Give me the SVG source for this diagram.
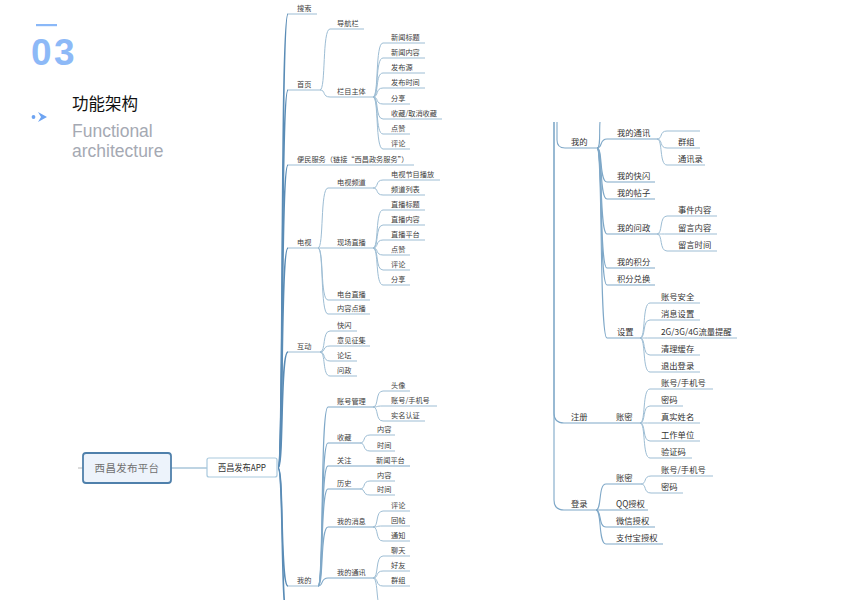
<svg xmlns="http://www.w3.org/2000/svg" width="855" height="600" viewBox="0 0 855 600">
<style>
.t{font-family:"Noto Sans CJK SC","Liberation Sans",sans-serif;font-size:7.2px;fill:#404040}
.r{font-family:"Noto Sans CJK SC","Liberation Sans",sans-serif;font-size:8.3px;fill:#333}
.k1{fill:none;stroke:#5a8cb6;stroke-width:1.5}
.k2{fill:none;stroke:#9dbdd4;stroke-width:1}
.k3{fill:none;stroke:#7fa8c8;stroke-width:1.1}
</style>
<rect width="855" height="600" fill="#fff"/>
<g id="header">
<rect x="36" y="24" width="21" height="2.2" fill="#8ab8f8"/>
<text x="31" y="65" font-family="Liberation Sans,Arial,sans-serif" font-size="37" font-weight="bold" letter-spacing="2.5" fill="#8db9f7">03</text>
<circle cx="33.5" cy="117" r="1.9" fill="#6ea4f2"/>
<polygon points="38,112 47,117 38,122 41,117" fill="#6ea4f2"/>
<text x="72" y="110" font-family="Noto Sans CJK SC,sans-serif" font-size="16.5" fill="#111">功能架构</text>
<text x="72" y="137" font-family="Liberation Sans,Arial,sans-serif" font-size="17.5" fill="#a5a9b3">Functional</text>
<text x="72" y="157" font-family="Liberation Sans,Arial,sans-serif" font-size="17.5" fill="#a5a9b3">architecture</text>
</g>
<g id="connectors">
<line x1="78" y1="468" x2="83" y2="468" stroke="#b8b8b8" stroke-width="1"/>
<line x1="171" y1="468" x2="207" y2="468" stroke="#a9c6da" stroke-width="1.5"/>
<path class="k1" d="M278,468 C284,468 280,14 288,14"/><path class="k2" d="M288,14 H317"/>
<path class="k1" d="M278,468 C284,468 280,90 288,90"/><path class="k2" d="M288,90 H320"/>
<path class="k1" d="M278,468 C284,468 280,165 288,165"/><path class="k2" d="M288,165 H414"/>
<path class="k1" d="M278,468 C284,468 280,248 288,248"/><path class="k2" d="M288,248 H318"/>
<path class="k1" d="M278,468 C284,468 280,352 288,352"/><path class="k2" d="M288,352 H320"/>
<path class="k1" d="M278,468 C284,468 280,586 288,586"/><path class="k2" d="M288,586 H318"/>
<path class="k1" d="M278,468 C284,468 280,620 288,620"/>
<path class="k2" d="M320,90 C326,90 322,29 330,29 H364"/>
<path class="k2" d="M320,90 C326,90 322,97 330,97 H373"/>
<path class="k2" d="M373,97 C379,97 375,43 383,43 H425"/>
<path class="k2" d="M373,97 C379,97 375,58 383,58 H425"/>
<path class="k2" d="M373,97 C379,97 375,73 383,73 H425"/>
<path class="k2" d="M373,97 C379,97 375,88 383,88 H425"/>
<path class="k2" d="M373,97 C379,97 375,104 383,104 H410"/>
<path class="k2" d="M373,97 C379,97 375,119 383,119 H442"/>
<path class="k2" d="M373,97 C379,97 375,134 383,134 H410"/>
<path class="k2" d="M373,97 C379,97 375,149 383,149 H410"/>
<path class="k2" d="M318,248 C324,248 320,188 328,188 H373"/>
<path class="k2" d="M318,248 H373"/>
<path class="k2" d="M318,248 C324,248 320,300 328,300 H370"/>
<path class="k2" d="M318,248 C324,248 320,314 328,314 H370"/>
<path class="k2" d="M373,188 C379,188 375,180 383,180 H440"/>
<path class="k2" d="M373,188 C379,188 375,195 383,195 H425"/>
<path class="k2" d="M373,248 C379,248 375,210 383,210 H425"/>
<path class="k2" d="M373,248 C379,248 375,225 383,225 H425"/>
<path class="k2" d="M373,248 C379,248 375,240 383,240 H425"/>
<path class="k2" d="M373,248 C379,248 375,255 383,255 H410"/>
<path class="k2" d="M373,248 C379,248 375,270 383,270 H410"/>
<path class="k2" d="M373,248 C379,248 375,285 383,285 H410"/>
<path class="k2" d="M320,352 C326,352 322,331 330,331 H357"/>
<path class="k2" d="M320,352 C326,352 322,346 330,346 H370"/>
<path class="k2" d="M320,352 C326,352 322,361 330,361 H357"/>
<path class="k2" d="M320,352 C326,352 322,376 330,376 H357"/>
<path class="k3" d="M318,586 C324,586 320,407 328,407 H373"/>
<path class="k3" d="M318,586 C324,586 320,443 328,443 H360"/>
<path class="k3" d="M318,586 C324,586 320,466 328,466 H410"/>
<path class="k3" d="M318,586 C324,586 320,489 328,489 H360"/>
<path class="k3" d="M318,586 C324,586 320,527 328,527 H373"/>
<path class="k3" d="M318,586 C324,586 320,578 328,578 H373"/>
<path class="k2" d="M373,407 C379,407 375,391 383,391 H410"/>
<path class="k2" d="M373,407 C379,407 375,406 383,406 H437"/>
<path class="k2" d="M373,407 C379,407 375,421 383,421 H425"/>
<path class="k2" d="M360,443 C366,443 362,435 370,435 H395"/>
<path class="k2" d="M360,443 C366,443 362,451 370,451 H395"/>
<path class="k2" d="M360,489 C366,489 362,481 370,481 H395"/>
<path class="k2" d="M360,489 C366,489 362,495 370,495 H395"/>
<path class="k2" d="M373,527 C379,527 375,511 383,511 H410"/>
<path class="k2" d="M373,527 C379,527 375,526 383,526 H410"/>
<path class="k2" d="M373,527 C379,527 375,541 383,541 H410"/>
<path class="k2" d="M373,578 C379,578 375,556 383,556 H410"/>
<path class="k2" d="M373,578 C379,578 375,571 383,571 H410"/>
<path class="k2" d="M373,578 C379,578 375,586 383,586 H410"/>
<path class="k2" d="M373,578 C379,578 375,610 383,610"/>
<path class="k3" d="M557,122 V140 Q557,148 565,148 H597"/>
<path class="k3" d="M554,122 V413 Q554,423 564,423 H640"/>
<path class="k3" d="M554,122 V500 Q554,510 564,510 H596"/>
<path class="k3" d="M597,148 C601,148 599,132 600,122"/>
<path class="k3" d="M597,148 C603,148 599,139 607,139 H657"/>
<path class="k3" d="M597,148 C603,148 599,182 607,182 H655"/>
<path class="k3" d="M597,148 C603,148 599,199 607,199 H655"/>
<path class="k3" d="M597,148 C603,148 599,234 607,234 H657"/>
<path class="k3" d="M597,148 C603,148 599,268 607,268 H655"/>
<path class="k3" d="M597,148 C603,148 599,285 607,285 H655"/>
<path class="k3" d="M597,148 C603,148 599,338 607,338 H640"/>
<path class="k2" d="M657,139 C663,139 659,131 667,131 H700"/>
<path class="k2" d="M657,139 C663,139 659,148 667,148 H700"/>
<path class="k2" d="M657,139 C663,139 659,165 667,165 H705"/>
<path class="k2" d="M657,234 C663,234 659,216 667,216 H717"/>
<path class="k2" d="M657,234 C663,234 659,234 667,234 H717"/>
<path class="k2" d="M657,234 C663,234 659,251 667,251 H717"/>
<path class="k2" d="M640,338 C646,338 642,303 650,303 H700"/>
<path class="k2" d="M640,338 C646,338 642,320 650,320 H700"/>
<path class="k2" d="M640,338 C646,338 642,338 650,338 H737"/>
<path class="k2" d="M640,338 C646,338 642,355 650,355 H700"/>
<path class="k2" d="M640,338 C646,338 642,372 650,372 H700"/>
<path class="k2" d="M640,423 C646,423 642,389 650,389 H713"/>
<path class="k2" d="M640,423 C646,423 642,406 650,406 H683"/>
<path class="k2" d="M640,423 C646,423 642,423 650,423 H700"/>
<path class="k2" d="M640,423 C646,423 642,441 650,441 H700"/>
<path class="k2" d="M640,423 C646,423 642,458 650,458 H692"/>
<path class="k3" d="M596,510 C602,510 598,484 606,484 H641"/>
<path class="k3" d="M596,510 H648"/>
<path class="k3" d="M596,510 C602,510 598,527 606,527 H655"/>
<path class="k3" d="M596,510 C602,510 598,544 606,544 H663"/>
<path class="k2" d="M641,484 C647,484 643,476 651,476 H713"/>
<path class="k2" d="M641,484 C647,484 643,493 651,493 H683"/>
</g>
<g id="root"><rect x="83" y="453" width="88" height="30" rx="3" fill="#edf3fb" stroke="#4f80ab" stroke-width="1.8"/><text x="127" y="472" text-anchor="middle" font-family="Noto Sans CJK SC,sans-serif" font-size="10.5" letter-spacing="0.3" fill="#707070">西昌发布平台</text></g>
<g id="app"><rect x="207" y="458" width="70" height="19" rx="2" fill="#fff" stroke="#a9c9de" stroke-width="1.2"/><text x="218" y="471" font-family="Noto Sans CJK SC,sans-serif" font-size="8.8" textLength="48" lengthAdjust="spacingAndGlyphs" fill="#333">西昌发布APP</text></g>
<g id="left-nodes">
<g id="n-search"><text class="t" x="297" y="11">搜索</text></g>
<g id="n-home"><text class="t" x="297" y="87">首页</text>
<text class="t" x="337" y="26">导航栏</text>
<text class="t" x="337" y="94">栏目主体</text>
<text class="t" x="391" y="40">新闻标题</text>
<text class="t" x="391" y="55">新闻内容</text>
<text class="t" x="391" y="70">发布源</text>
<text class="t" x="391" y="85">发布时间</text>
<text class="t" x="391" y="101">分享</text>
<text class="t" x="391" y="116">收藏/取消收藏</text>
<text class="t" x="391" y="131">点赞</text>
<text class="t" x="391" y="146">评论</text></g>
<g id="n-service"><text class="t" x="297" y="162">便民服务（链接“西昌政务服务”）</text></g>
<g id="n-tv"><text class="t" x="297" y="245">电视</text>
<text class="t" x="337" y="185">电视频道</text>
<text class="t" x="391" y="177">电视节目播放</text>
<text class="t" x="391" y="192">频道列表</text>
<text class="t" x="337" y="245">现场直播</text>
<text class="t" x="391" y="207">直播标题</text>
<text class="t" x="391" y="222">直播内容</text>
<text class="t" x="391" y="237">直播平台</text>
<text class="t" x="391" y="252">点赞</text>
<text class="t" x="391" y="267">评论</text>
<text class="t" x="391" y="282">分享</text>
<text class="t" x="337" y="297">电台直播</text>
<text class="t" x="337" y="311">内容点播</text></g>
<g id="n-interact"><text class="t" x="297" y="349">互动</text>
<text class="t" x="337" y="328">快闪</text>
<text class="t" x="337" y="343">意见征集</text>
<text class="t" x="337" y="358">论坛</text>
<text class="t" x="337" y="373">问政</text></g>
<g id="n-mine"><text class="t" x="297" y="583">我的</text>
<text class="t" x="337" y="404">账号管理</text>
<text class="t" x="391" y="388">头像</text>
<text class="t" x="391" y="403">账号/手机号</text>
<text class="t" x="391" y="418">实名认证</text>
<text class="t" x="337" y="440">收藏</text>
<text class="t" x="377" y="432">内容</text>
<text class="t" x="377" y="448">时间</text>
<text class="t" x="337" y="463">关注</text>
<text class="t" x="376" y="463">新闻平台</text>
<text class="t" x="337" y="486">历史</text>
<text class="t" x="377" y="478">内容</text>
<text class="t" x="377" y="492">时间</text>
<text class="t" x="337" y="524">我的消息</text>
<text class="t" x="391" y="508">评论</text>
<text class="t" x="391" y="523">回帖</text>
<text class="t" x="391" y="538">通知</text>
<text class="t" x="337" y="575">我的通讯</text>
<text class="t" x="391" y="553">聊天</text>
<text class="t" x="391" y="568">好友</text>
<text class="t" x="391" y="583">群组</text></g>
</g>
<g id="right-nodes">
<g id="r-mine"><text class="r" x="571" y="145">我的</text>
<text class="r" x="617" y="136">我的通讯</text>
<text class="r" x="678" y="145">群组</text>
<text class="r" x="678" y="162">通讯录</text>
<text class="r" x="617" y="179">我的快闪</text>
<text class="r" x="617" y="196">我的帖子</text>
<text class="r" x="617" y="231">我的问政</text>
<text class="r" x="678" y="213">事件内容</text>
<text class="r" x="678" y="231">留言内容</text>
<text class="r" x="678" y="248">留言时间</text>
<text class="r" x="617" y="265">我的积分</text>
<text class="r" x="617" y="282">积分兑换</text>
<text class="r" x="617" y="335">设置</text>
<text class="r" x="661" y="300">账号安全</text>
<text class="r" x="661" y="317">消息设置</text>
<text class="r" x="661" y="335">2G/3G/4G流量提醒</text>
<text class="r" x="661" y="352">清理缓存</text>
<text class="r" x="661" y="369">退出登录</text></g>
<g id="r-register"><text class="r" x="571" y="420">注册</text>
<text class="r" x="616" y="420">账密</text>
<text class="r" x="661" y="386">账号/手机号</text>
<text class="r" x="661" y="403">密码</text>
<text class="r" x="661" y="420">真实姓名</text>
<text class="r" x="661" y="438">工作单位</text>
<text class="r" x="661" y="455">验证码</text></g>
<g id="r-login"><text class="r" x="571" y="507">登录</text>
<text class="r" x="616" y="481">账密</text>
<text class="r" x="661" y="473">账号/手机号</text>
<text class="r" x="661" y="490">密码</text>
<text class="r" x="616" y="507">QQ授权</text>
<text class="r" x="616" y="524">微信授权</text>
<text class="r" x="616" y="541">支付宝授权</text></g>
</g>
</svg>
